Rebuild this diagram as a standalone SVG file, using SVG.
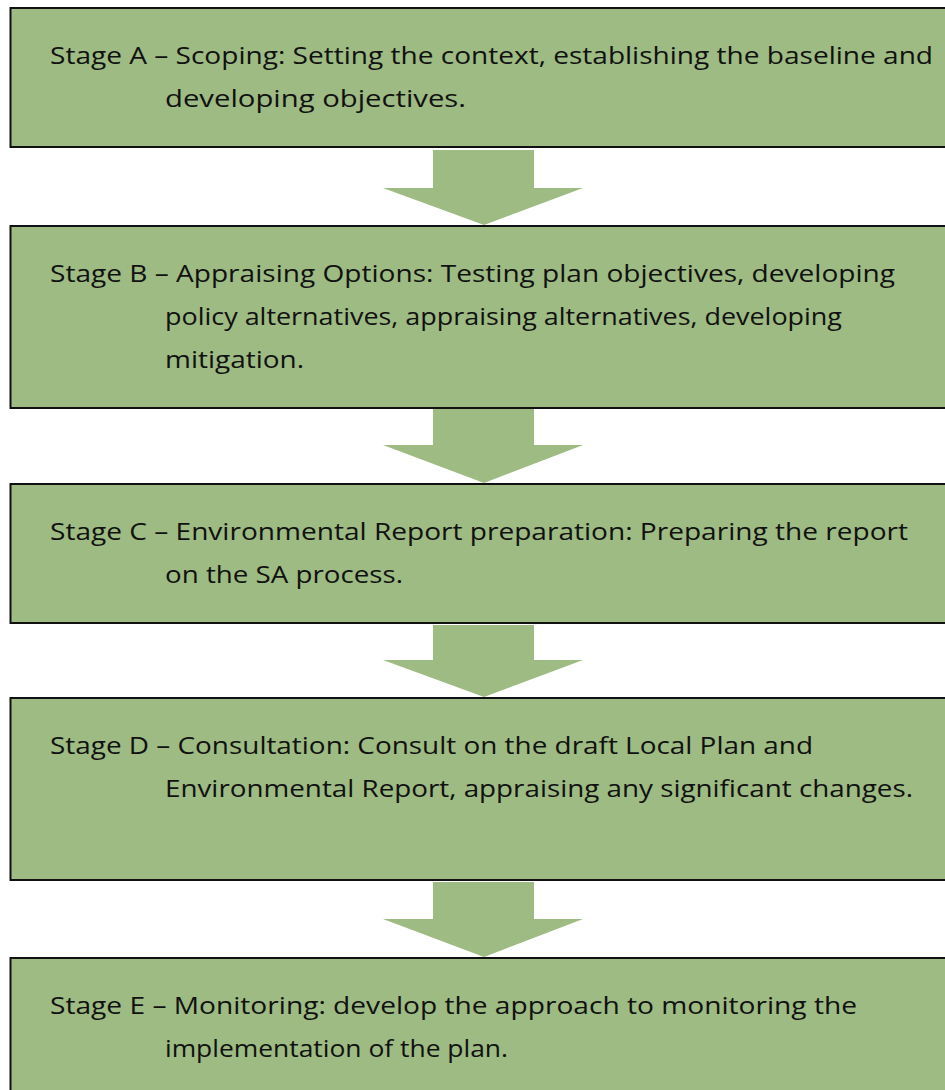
<svg xmlns="http://www.w3.org/2000/svg" width="945" height="1090" viewBox="0 0 945 1090">
<style>
.box{fill:#9dbb82;stroke:#111;stroke-width:2}
.arr{fill:#9dbb82}
text{font-family:"Open Sans","Noto Sans","Liberation Sans",sans-serif;font-size:24px;fill:#111}
</style>
<rect width="945" height="1090" fill="#fff"/>
<g id="connectors">
<polygon class="arr" points="433,150 534,150 534,188 583,188 484,225 383,188 433,188"/>
<polygon class="arr" points="433,409 534,409 534,445 583,445 484,483 383,445 433,445"/>
<polygon class="arr" points="433,625 534,625 534,660 583,660 484,697 383,660 433,660"/>
<polygon class="arr" points="433,882 534,882 534,919 583,919 484,957 383,919 433,919"/>
</g>
<g id="stageA">
<rect class="box" x="10.5" y="8" width="940" height="139"/>
<text x="50" y="64" textLength="883" lengthAdjust="spacingAndGlyphs">Stage A – Scoping: Setting the context, establishing the baseline and</text>
<text x="165" y="107" textLength="301" lengthAdjust="spacingAndGlyphs">developing objectives.</text>
</g>
<g id="stageB">
<rect class="box" x="10.5" y="226" width="940" height="182"/>
<text x="50" y="282" textLength="845" lengthAdjust="spacingAndGlyphs">Stage B – Appraising Options: Testing plan objectives, developing</text>
<text x="165" y="325" textLength="677" lengthAdjust="spacingAndGlyphs">policy alternatives, appraising alternatives, developing</text>
<text x="165" y="368" textLength="139" lengthAdjust="spacingAndGlyphs">mitigation.</text>
</g>
<g id="stageC">
<rect class="box" x="10.5" y="484" width="940" height="139"/>
<text x="50" y="540" textLength="858" lengthAdjust="spacingAndGlyphs">Stage C – Environmental Report preparation: Preparing the report</text>
<text x="165" y="583" textLength="238" lengthAdjust="spacingAndGlyphs">on the SA process.</text>
</g>
<g id="stageD">
<rect class="box" x="10.5" y="698" width="940" height="182"/>
<text x="50" y="754" textLength="763" lengthAdjust="spacingAndGlyphs">Stage D – Consultation: Consult on the draft Local Plan and</text>
<text x="165" y="797" textLength="748" lengthAdjust="spacingAndGlyphs">Environmental Report, appraising any significant changes.</text>
</g>
<g id="stageE">
<rect class="box" x="10.5" y="958" width="940" height="150"/>
<text x="50" y="1014" textLength="807" lengthAdjust="spacingAndGlyphs">Stage E – Monitoring: develop the approach to monitoring the</text>
<text x="165" y="1057" textLength="343" lengthAdjust="spacingAndGlyphs">implementation of the plan.</text>
</g>
</svg>
